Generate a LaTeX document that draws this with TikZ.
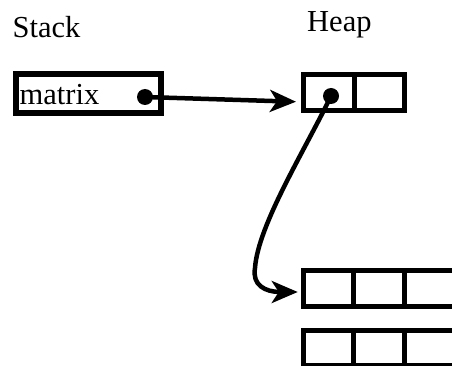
\documentclass[tikz,border=0pt]{standalone}
\usepackage{fontspec}
\setmainfont{Liberation Serif}
\usetikzlibrary{arrows.meta}
\begin{document}
\begin{tikzpicture}[x=1pt,y=-1pt,
  lbl/.style={anchor=base west,inner sep=0pt,font=\fontsize{30.5}{36}\selectfont},
  cell/.style={draw,line width=5pt,minimum width=50.5pt,minimum height=35.5pt,inner sep=0pt},
  stackbox/.style={draw,line width=6pt,minimum width=145pt,minimum height=39pt,inner sep=0pt},
  dot/.style={circle,fill,inner sep=0pt,minimum size=16pt},
  ptr/.style={line width=4.5pt,-{Stealth[length=26pt,width=22pt,inset=7pt]}}]
\clip (0,0) rectangle (452,366);
\node[lbl] (stack) at (12.5,38) {Stack};
\node[lbl] (heap) at (307,32) {Heap};
\node[stackbox] (mbox) at (88.5,93.5) {};
\node[lbl] (mtxt) at (19.5,105) {matrix};
\node[dot] (mdot) at (145,97) {};
\node[cell] (h1a) at (328.75,92.4) {};
\node[cell] (h1b) at (379.25,92.4) {};
\node[dot] (hdot) at (331,96) {};
\node[cell] (r2a) at (328.5,288.5) {};
\node[cell] (r2b) at (379,288.5) {};
\node[cell] (r2c) at (429.5,288.5) {};
\node[cell] (r3a) at (328.5,347.75) {};
\node[cell] (r3b) at (379,347.75) {};
\node[cell] (r3c) at (429.5,347.75) {};
\draw[ptr,shorten >=5pt] (mdot.center) -- ([yshift=-9.5pt]h1a.west);
\draw[ptr,shorten >=3pt] (hdot.center) .. controls (305,150) and (258,225) .. (255,268)
  .. controls (252,285) and (265,292) .. ([yshift=-3.5pt]r2a.west);
\end{tikzpicture}
\end{document}
